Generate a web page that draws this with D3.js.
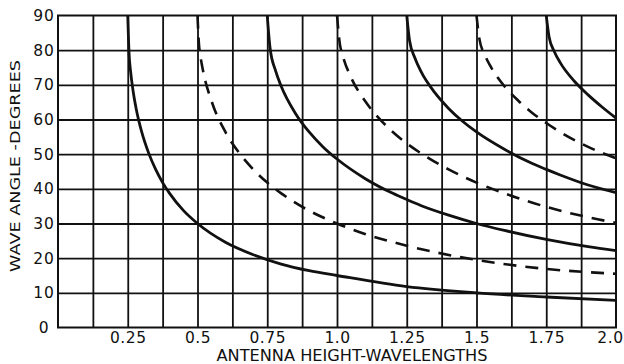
<!DOCTYPE html>
<html><head><meta charset="utf-8">
<script src="https://cdn.jsdelivr.net/npm/d3@7"></script>
<style>
html,body{margin:0;padding:0;background:#fff;}
svg{display:block;}
text{font-family:"DejaVu Sans",sans-serif;fill:#111;}
</style></head>
<body><svg id="c" width="624" height="364"></svg>
<script>
// ---- data ----
const xTickValues = [0.25, 0.5, 0.75, 1.0, 1.25, 1.5, 1.75, 2.0];
const xTickLabels = ["0.25", "0.5", "0.75", "1.0", "1.25", "1.5", "1.75", "2.0"];
const yTickValues = [0, 10, 20, 30, 40, 50, 60, 70, 80, 90];
const xGridValues = [0.125,0.25,0.375,0.5,0.625,0.75,0.875,1.0,1.125,1.25,1.375,1.5,1.625,1.75,1.875];

// solid curves (wave angle of maxima), [height, angle]
const solid1 = [[0.25,90],[0.255,78.6],[0.26,74],[0.27,67.8],[0.28,63.2],[0.3,56.4],[0.325,50.3],[0.35,45.6],[0.375,41.8],[0.4,38.7],[0.45,33.7],[0.5,30],[0.6,24.6],[0.7,21],[0.8,18.3],[0.9,16.4],[1.0,15],[1.25,11.8],[1.5,10],[1.75,8.8],[2.0,7.8]];
const solid2 = [[0.75,90],[0.76,80.7],[0.78,74],[0.8,69.6],[0.85,61.9],[0.9,56.4],[0.95,52.1],[1.0,48.6],[1.1,43],[1.2,38.7],[1.25,36.9],[1.3,35.2],[1.4,32.4],[1.5,30],[1.6,28],[1.75,25.4],[1.9,23.3],[2.0,22.2]];
const solid3 = [[1.25,90],[1.26,82.8],[1.28,77.6],[1.3,74],[1.35,67.8],[1.4,63.2],[1.45,59.5],[1.5,56.4],[1.6,51.4],[1.7,47.3],[1.75,45.6],[1.8,44],[1.9,41.1],[2.0,38.9]];
const solid4 = [[1.75,90],[1.76,83.9],[1.78,79.4],[1.8,76.4],[1.85,71.1],[1.9,67.1],[1.95,63.6],[2.0,60.4]];
// dashed curves (nulls)
const dashed1 = [[0.5,90],[0.505,81.9],[0.51,78.6],[0.52,74],[0.55,65.4],[0.6,56.4],[0.65,50.3],[0.7,45.6],[0.75,41.8],[0.8,38.7],[0.9,33.7],[1.0,30],[1.1,27],[1.25,23.6],[1.5,19.5],[1.75,16.9],[2.0,15.5]];
const dashed2 = [[1.0,90],[1.01,81.9],[1.02,78.6],[1.05,72.2],[1.1,65.4],[1.15,60.4],[1.2,56.4],[1.25,53.1],[1.3,50.3],[1.4,45.6],[1.5,41.8],[1.6,38.7],[1.75,34.8],[1.9,31.8],[2.0,30.2]];
const dashed3 = [[1.5,90],[1.51,83.4],[1.53,78.6],[1.55,75.4],[1.6,69.6],[1.65,65.4],[1.7,61.9],[1.75,59],[1.8,56.4],[1.9,52.1],[2.0,48.8]];

const solidSeries = [solid1, solid2, solid3, solid4];
const dashedSeries = [dashed1, dashed2, dashed3];

// ---- drawing ----
const svg = d3.select("#c");
const x = d3.scaleLinear().domain([0, 2]).range([58, 616]);
const y = d3.scaleLinear().domain([0, 90]).range([327.5, 15.5]);
const ink = "#111";

svg.append("defs").append("clipPath").attr("id","plot")
  .append("rect").attr("x", x(0)).attr("y", y(90)).attr("width", x(2)-x(0)).attr("height", y(0)-y(90));

// grid
const gx = svg.append("g").attr("transform", `translate(0,${y(0)})`)
  .call(d3.axisBottom(x).tickValues(xGridValues).tickSize(-(y(0)-y(90))).tickFormat(""));
gx.select(".domain").remove();
gx.selectAll("line").attr("stroke", ink).attr("stroke-width", 1.8);

const gy = svg.append("g").attr("transform", `translate(${x(0)},0)`)
  .call(d3.axisLeft(y).tickValues(yTickValues.slice(1, -1)).tickSize(-(x(2)-x(0))).tickFormat(""));
gy.select(".domain").remove();
gy.selectAll("line").attr("stroke", ink).attr("stroke-width", 1.8);

svg.append("rect").attr("x", x(0)).attr("y", y(90)).attr("width", x(2)-x(0)).attr("height", y(0)-y(90))
  .attr("fill", "none").attr("stroke", ink).attr("stroke-width", 2);

// curves
const line = d3.line().x(d => x(d[0])).y(d => y(d[1])).curve(d3.curveMonotoneX);
const cg = svg.append("g").attr("clip-path", "url(#plot)");
cg.selectAll("path.solid").data(solidSeries).join("path").attr("class","solid")
  .attr("d", line).attr("fill","none").attr("stroke", ink).attr("stroke-width", 2.8);
cg.selectAll("path.dashed").data(dashedSeries).join("path").attr("class","dashed")
  .attr("d", line).attr("fill","none").attr("stroke", ink).attr("stroke-width", 2.6)
  .attr("stroke-dasharray", "13,9");

// axis labels
const ax = svg.append("g").attr("transform", `translate(0,${y(0)})`)
  .call(d3.axisBottom(x).tickValues(xTickValues).tickSize(0).tickPadding(5)
    .tickFormat((d, i) => xTickLabels[i]));
ax.select(".domain").remove();
ax.selectAll("text").attr("font-size", 15.5).attr("font-family", "DejaVu Sans").attr("fill", ink)
  .attr("letter-spacing", 0.5).attr("dy", null).attr("y", 15.8);
// last label sits at the right edge: keep it inside the picture
ax.selectAll("text").filter(d => d === 2.0).attr("text-anchor", "end").attr("x", 623 - x(2));

const ay = svg.append("g");
ay.selectAll("text").data(yTickValues).join("text")
  .attr("x", 44).attr("y", d => y(d)).attr("dy", "0.36em").attr("text-anchor", "middle")
  .attr("font-size", 15.5).attr("letter-spacing", 0.8).text(d => String(d));

svg.append("text").attr("x", 352).attr("y", 361).attr("text-anchor", "middle")
  .attr("font-size", 15).attr("textLength", 271).attr("lengthAdjust", "spacingAndGlyphs")
  .text("ANTENNA HEIGHT-WAVELENGTHS");

svg.append("text").attr("transform", "translate(20,166) rotate(-90)").attr("text-anchor", "middle")
  .attr("font-size", 14.5).attr("textLength", 212).attr("lengthAdjust", "spacingAndGlyphs")
  .text("WAVE ANGLE -DEGREES");
</script></body></html>
